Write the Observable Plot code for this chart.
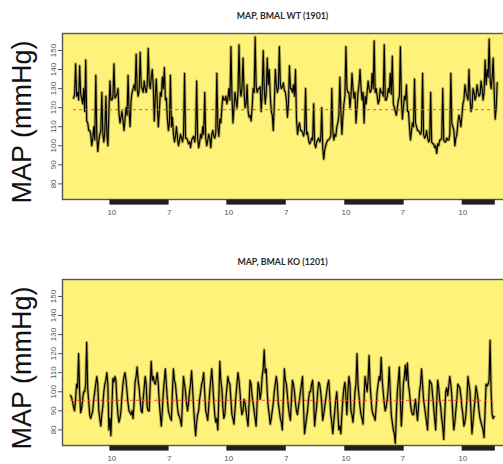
<!DOCTYPE html>
<html><head><meta charset="utf-8">
<script src="https://cdn.jsdelivr.net/npm/d3@7"></script>
<script src="https://cdn.jsdelivr.net/npm/@observablehq/plot@0.6"></script>
<style>
html,body{margin:0;padding:0;background:#fff;overflow:hidden;width:503px;height:464px}
#root{position:relative;width:503px;height:464px}
.title{position:absolute;left:62px;width:441px;text-align:center;font-weight:bold;font-size:8.8px;font-family:Lato,"Open Sans",sans-serif;color:#2b2b2b;line-height:12px}
.panel{position:absolute;left:0}
</style></head>
<body><div id="root"></div>
<script>
// ---- data ----
const titles = ["MAP, BMAL WT (1901)", "MAP, BMAL KO (1201)"];
const yLabel = "MAP (mmHg)";
const yTicks = [80, 90, 100, 110, 120, 130, 140, 150];
const xTickHours = [0.4, 12.15, 24.4, 36.2, 48.45, 60.1, 72.4];
const xTickLabels = ["10", "7", "10", "7", "10", "7", "10"];
const darkStart = [0, 24, 48.2, 72.3];
const darkEnd = [12.15, 36.2, 60.4, 79.1];
const sampleHours = 0.207;
const wtStartHour = -7.45;
const koStartHour = -8.08;
const wtMean = 119;
const koMean = 95.5;
const wtMAP = [
125,127,143,126,128,124,142,127,125,122,130,118,145,113,112,108,108,106,100,104,
110,103,137,105,97,103,106,108,128,106,102,108,126,106,100,118,134,124,124,126,
143,125,126,127,130,117,112,115,118,113,108,114,120,116,137,118,110,124,128,130,
132,129,148,130,126,129,149,131,130,128,134,130,128,132,151,133,130,136,140,131,
113,126,135,122,110,118,128,126,136,130,141,124,125,114,108,112,137,110,115,106,
102,105,110,104,100,103,106,104,102,106,138,104,104,103,101,102,99,103,104,105,
102,106,134,104,99,102,106,104,110,106,128,104,100,103,106,104,99,106,108,105,
104,107,138,110,105,114,112,120,126,124,124,126,122,125,130,124,152,126,112,120,
128,124,120,128,153,130,126,131,146,128,120,122,132,118,115,116,113,120,130,128,
157,131,128,130,130,131,118,128,150,130,122,128,146,132,140,126,118,116,108,122,
140,132,128,130,152,132,130,131,133,129,128,124,115,122,142,130,130,128,132,126,
140,114,106,110,112,108,108,107,105,108,130,106,107,103,101,102,104,103,122,101,
99,102,103,104,102,103,120,99,93,98,100,102,103,103,104,105,130,108,103,106,
105,110,112,116,136,118,106,115,122,126,152,130,128,128,120,126,138,130,125,128,
112,120,128,132,140,130,124,128,112,126,122,128,134,130,128,129,138,130,155,128,
130,126,122,124,130,128,128,126,153,124,124,126,130,128,138,127,147,122,120,118,
116,120,124,126,152,124,114,120,126,124,132,118,118,110,103,108,112,110,135,112,
110,108,108,107,106,108,138,106,104,105,108,104,102,103,128,102,101,101,99,100,
96,101,100,103,103,104,130,103,102,102,104,103,103,106,138,112,110,108,100,104,
106,112,116,114,110,116,122,124,132,128,126,124,140,126,118,120,130,128,124,126,
132,128,126,127,134,130,124,128,145,132,140,136,156,134,130,136,146,128,114,120,
133];
const koMAP = [
98,97,95,92,90,96,104,102,120,100,89,91,96,100,100,104,126,102,95,88,
86,88,90,96,100,104,108,104,90,86,82,88,92,100,104,106,110,104,80,86,
77,92,107,105,108,106,95,88,84,86,90,98,104,108,110,106,100,94,90,89,
88,90,86,94,105,108,113,106,102,96,90,89,96,102,108,104,92,90,90,104,
116,106,108,105,104,107,110,104,94,88,82,90,100,106,112,104,96,90,88,86,
85,100,112,106,104,98,92,88,87,85,82,96,108,104,100,94,90,94,100,104,
111,102,92,84,77,84,88,90,96,100,104,106,110,100,90,88,85,92,100,106,
112,104,95,88,84,86,80,96,116,106,102,92,86,88,96,102,108,105,104,96,
88,86,83,90,98,104,110,106,100,92,88,90,96,94,90,86,82,94,106,104,
98,94,90,86,82,94,105,102,96,100,108,112,122,110,112,100,92,88,83,86,
90,94,100,104,108,104,94,90,86,84,80,96,112,106,104,98,92,88,85,96,
106,104,100,94,90,88,92,96,100,104,108,92,78,82,86,90,96,100,100,104,
106,96,82,88,92,100,105,104,100,94,85,88,92,96,100,104,106,98,88,84,
78,84,90,96,100,90,80,82,78,88,96,102,105,98,88,100,108,104,90,88,
84,90,100,104,120,104,98,92,88,86,83,96,108,104,100,106,119,104,96,90,
88,87,85,92,100,104,108,106,118,106,100,94,90,92,96,102,113,100,88,84,
80,78,73,88,100,106,113,96,82,92,104,108,114,106,115,104,100,94,90,88,
88,92,96,90,85,92,100,104,112,104,96,92,88,84,80,94,106,105,104,98,
92,86,80,94,106,102,96,92,86,82,75,88,100,102,98,103,108,104,98,88,
80,84,90,96,104,103,102,98,92,88,82,84,88,96,108,104,100,90,78,84,
90,96,103,100,96,90,86,84,82,80,76,90,104,103,104,106,127,100,88,86,
87];

// ---- layout constants ----
const yellow = "#fff27a";
const xDomain = [-9.73, 81.6];
const yDomain = [71.8, 158.9];
const tickLabel = new Map(xTickHours.map((h, i) => [h, xTickLabels[i]]));
const darkPeriods = darkStart.map((s, i) => ({s, e: darkEnd[i]}));
const font = "'Liberation Sans', Arial, sans-serif";

function panel(values, t0, mean) {
  const data = values.map((v, i) => ({t: t0 + i * sampleHours, v}));
  const tEnd = data[data.length - 1].t;
  return Plot.plot({
    width: 503, height: 192,
    marginLeft: 62, marginRight: -4, marginTop: 7, marginBottom: 19,
    style: {background: "transparent", overflow: "hidden", fontFamily: font},
    x: {domain: xDomain, axis: null},
    y: {domain: yDomain, axis: null},
    marks: [
      Plot.frame({fill: yellow, stroke: "#555", strokeWidth: 1.4}),
      Plot.rect(darkPeriods, {x1: "s", x2: "e", insetTop: 166.6, insetBottom: -5.6, fill: "#231f20"}),
      Plot.axisX({ticks: xTickHours, tickFormat: d => tickLabel.get(d), tickSize: 0, tickPadding: 10, fontSize: 8, color: "#555", label: null}),
      Plot.axisY({ticks: yTicks, tickRotate: -90, tickSize: 4, tickPadding: 3, fontSize: 8, color: "#555", label: null}),
      Plot.line(data, {x: "t", y: "v", stroke: "#6a6424", strokeWidth: 3.0, strokeOpacity: 0.5}),
      Plot.line(data, {x: "t", y: "v", stroke: "#000", strokeWidth: 1.15}),
      Plot.ruleY([mean], {x1: t0, x2: tEnd, stroke: "#ee5030", strokeWidth: 1.3, strokeDasharray: "3,3", strokeOpacity: 0.8}),
      Plot.text([yLabel], {frameAnchor: "left", textAnchor: "middle", dx: -40, dy: 5.5, rotate: -90, fontSize: 27, fill: "#111", fontFamily: font})
    ]
  });
}

const root = document.getElementById("root");
const specs = [
  {title: titles[0], values: wtMAP, t0: wtStartHour, mean: wtMean, titleTop: 10, top: 26},
  {title: titles[1], values: koMAP, t0: koStartHour, mean: koMean, titleTop: 256, top: 272}
];
for (const s of specs) {
  const t = document.createElement("div");
  t.className = "title";
  t.style.top = s.titleTop + "px";
  t.textContent = s.title;
  root.appendChild(t);
  const p = panel(s.values, s.t0, s.mean);
  p.classList.add("panel");
  p.style.position = "absolute";
  p.style.top = s.top + "px";
  p.style.left = "0px";
  root.appendChild(p);
}
</script>
</body></html>
